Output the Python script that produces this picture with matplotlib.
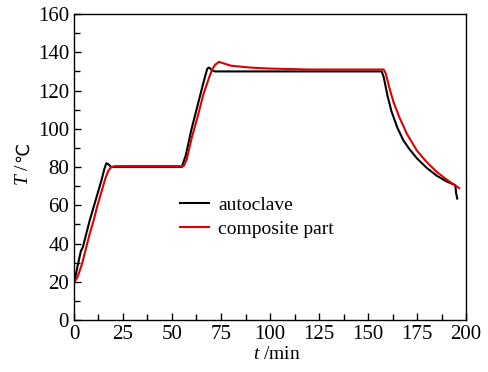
import matplotlib
matplotlib.use("Agg")
import matplotlib.pyplot as plt
from matplotlib.ticker import MultipleLocator

plt.rcParams['font.family'] = ['Liberation Serif', 'DejaVu Sans']
plt.rcParams['mathtext.fontset'] = 'custom'
plt.rcParams['mathtext.rm'] = 'Liberation Serif'
plt.rcParams['mathtext.it'] = 'Liberation Serif:italic'

# autoclave temperature
t_auto = [0, 1, 2, 3.5, 4.5, 6, 8, 10, 12, 14, 15.5, 16.5, 17.5, 19, 25, 40, 55,
          57, 60, 63, 66, 68, 69, 70.5, 72, 80, 100, 130, 157,
          158, 160, 162, 165, 168, 171, 175, 180, 185, 190, 194.5, 195, 195.5]
T_auto = [20, 24, 29, 36, 38, 44, 52, 59, 66, 73, 79, 82, 81.5, 80, 80, 80, 80,
          86, 100, 112, 124, 131.5, 132, 130.5, 130, 130, 130, 130, 130,
          127, 117, 109, 100.5, 94, 89.5, 84.5, 79.5, 75.5, 72.5, 70.5, 66, 63.5]

# composite part temperature
t_comp = [0, 1, 2, 4, 6, 8, 10, 12, 14, 16, 17.5, 19, 21, 30, 45, 56,
          57.5, 60, 63, 66, 69, 70.5, 72, 74, 77, 80, 90, 100, 120, 140, 158,
          159, 161, 163, 166, 170, 175, 180, 185, 190, 196.5]
T_comp = [20, 21, 23, 29, 37, 45, 52, 60, 67, 74, 78, 80, 80.5, 80.5, 80.5, 80.5,
          84, 95, 106, 118, 127, 131, 133.5, 135, 134, 133, 132, 131.5, 131, 131, 131,
          129, 121, 114, 106, 97, 88.5, 82.5, 77.5, 73.5, 69]

fig = plt.figure(figsize=(4.88, 3.72), dpi=100)
ax = fig.add_axes([0.1516, 0.1398, 0.8034, 0.8224])

ax.plot(t_auto, T_auto, color='black', lw=1.5, label='autoclave')
ax.plot(t_comp, T_comp, color='#e00000', lw=1.5, label='composite part')

ax.set_xlim(0, 200)
ax.set_ylim(0, 160)
ax.xaxis.set_major_locator(MultipleLocator(25))
ax.xaxis.set_minor_locator(MultipleLocator(12.5))
ax.yaxis.set_major_locator(MultipleLocator(20))
ax.yaxis.set_minor_locator(MultipleLocator(10))
ax.tick_params(which='both', direction='in', top=False, right=False, labelsize=15)
ax.tick_params(which='major', length=5, width=1)
ax.tick_params(which='minor', length=4, width=1)
for s in ax.spines.values():
    s.set_linewidth(1)

ax.set_xlabel('$t$ /min', fontsize=14)
ax.xaxis.set_label_coords(0.518, -0.085)

# y label: italic T (mathtext) + degree Celsius sign from a fallback font
ax.text(-0.118, 0.515, '$T$ /', fontsize=14, rotation=90, rotation_mode='anchor',
        ha='right', va='baseline', transform=ax.transAxes)
ax.text(-0.118, 0.515, '℃', fontsize=13, rotation=90, rotation_mode='anchor',
        ha='left', va='baseline', transform=ax.transAxes)

ax.legend(loc='upper left', bbox_to_anchor=(0.227, 0.462), frameon=False,
          fontsize=14, handlelength=1.45, handletextpad=0.5, labelspacing=0.35)

fig.savefig('out.png', dpi=100)
